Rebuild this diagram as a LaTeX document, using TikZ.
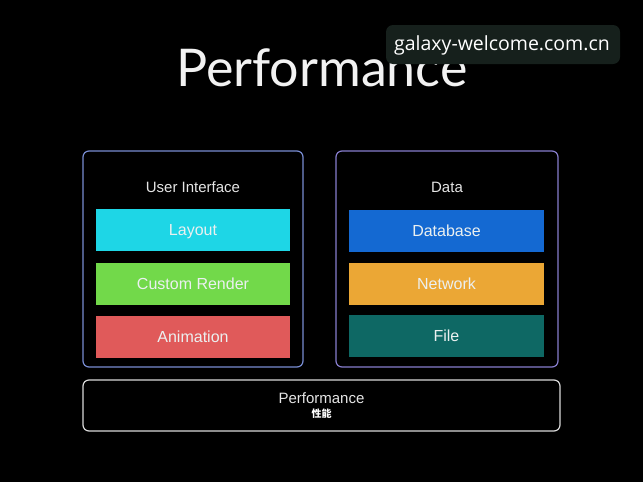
\documentclass[tikz,border=0pt]{standalone}
\usepackage{fontspec}
\setmainfont{Liberation Sans}
\newfontfamily\titlefont{Lato}
\newfontfamily\cjk{Noto Sans CJK SC}
\newfontfamily\markfont{Open Sans}
\usepackage{xcolor}
\definecolor{uiframe}{RGB}{120, 140, 210}
\definecolor{dataframe}{RGB}{135, 125, 205}
\definecolor{layoutcyan}{RGB}{30, 214, 230}
\definecolor{rendergreen}{RGB}{114, 217, 74}
\definecolor{animred}{RGB}{224, 90, 90}
\definecolor{dbblue}{RGB}{20, 105, 210}
\definecolor{netorange}{RGB}{235, 167, 53}
\definecolor{fileteal}{RGB}{14, 104, 100}
\definecolor{markbg}{RGB}{22, 32, 28}
\definecolor{bartext}{RGB}{235, 240, 240}
\usepackage{tikz}
\usetikzlibrary{positioning}

\begin{document}
\begin{tikzpicture}[x=1pt, y=-1pt,
    frame/.style={draw, line width=1.2pt, rounded corners=6pt},
    bar/.style={text height=12.5pt, text depth=1pt, minimum width=194pt, minimum height=42pt, inner sep=0pt, text=bartext, font=\fontsize{16}{18}\selectfont},
    head/.style={text height=12pt, text depth=1.3pt, text=white!90!black, font=\fontsize{15}{17}\selectfont}]
    \fill[black] (0,0) rectangle (643,482);
    \useasboundingbox (0,0) rectangle (643,482);
    \node[text=white!95!black, font=\titlefont\fontsize{52}{58}\selectfont] (title) at (322,68) {Performance};
    % user interface column
    \draw[frame, uiframe] (83,151) rectangle (303,367);
    \node[head] (ui) at (193,187) {User Interface};
    \node[bar, fill=layoutcyan] (layout) at (193,230) {Layout};
    \node[bar, fill=rendergreen] (render) at (193,283.5) {Custom Render};
    \node[bar, fill=animred] (anim) at (193,336.5) {Animation};
    % data column
    \draw[frame, dataframe] (336,151) rectangle (558,367);
    \node[head] (data) at (447,187) {Data};
    \node[bar, fill=dbblue, minimum width=195pt] (db) at (446.5,230.5) {Database};
    \node[bar, fill=netorange, minimum width=195pt] (net) at (446.5,283.5) {Network};
    \node[bar, fill=fileteal, minimum width=195pt] (file) at (446.5,335.5) {File};
    % base layer
    \draw[frame, white!85!black] (83,380) rectangle (560,431);
    \node[head] (perf) at (321.5,398) {Performance};
    \node[text=white, font=\cjk\bfseries\fontsize{10}{11}\selectfont] (perfcn) at (321.5,414) {性能};
    % watermark
    \fill[markbg, rounded corners=7pt] (386,25) rectangle (620,64);
    \node[text=white, font=\markfont\fontsize{19.5}{22}\selectfont] (mark) at (502,45) {galaxy-welcome.com.cn};
\end{tikzpicture}
\end{document}
